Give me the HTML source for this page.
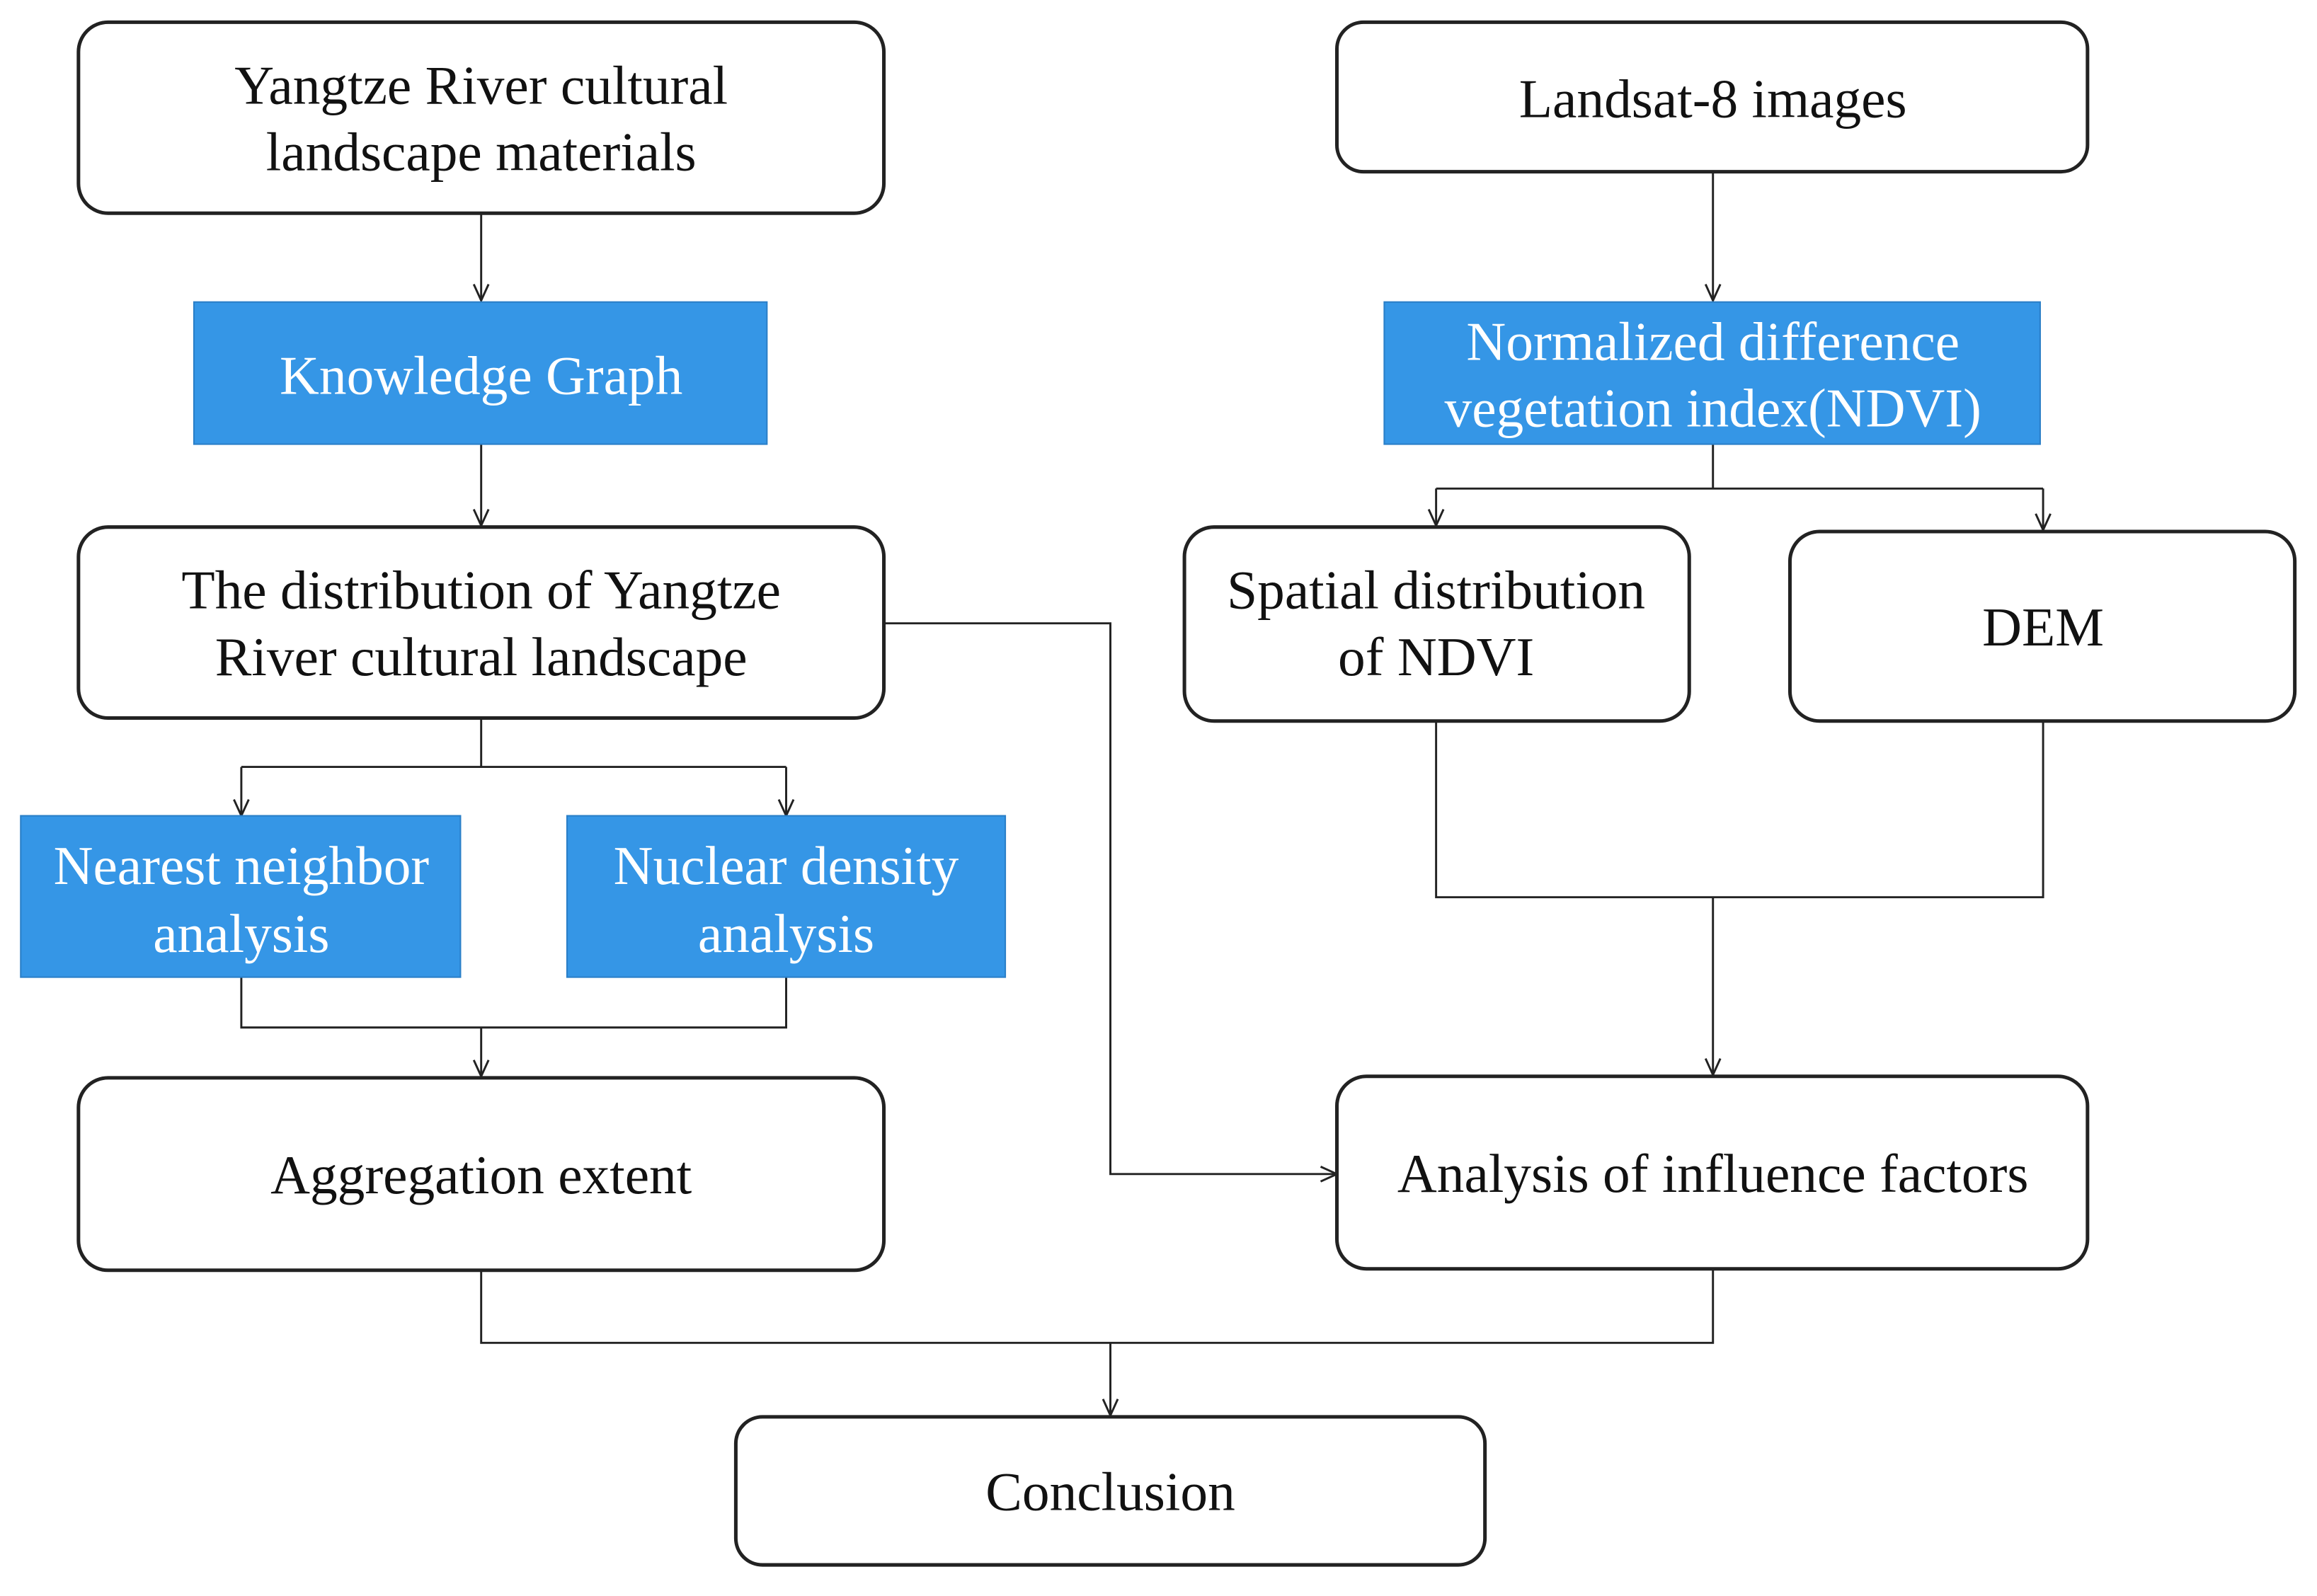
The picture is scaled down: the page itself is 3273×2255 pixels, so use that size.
<!DOCTYPE html>
<html><head><meta charset="utf-8"><style>html,body{margin:0;padding:0;background:#fff}svg{display:block}text{font-family:"Liberation Serif","Times New Roman",serif}</style></head>
<body>
<svg width="3273" height="2255" viewBox="0 0 1565 1078" preserveAspectRatio="none" xmlns="http://www.w3.org/2000/svg">
<rect width="1565" height="1078" fill="#fff"/>
<g fill="none" stroke="#222" stroke-width="1.4">
<path d="M325 144V203M325 300V355"/>
<path d="M597 421H750V793H903"/>
<path d="M325 485V518M163 518H531M163 518V551M531 518V551"/>
<path d="M163 660V694H531V660M325 694V727"/>
<path d="M1157 116V203"/>
<path d="M1157 300V330M970 330H1380M970 330V355M1380 330V358"/>
<path d="M970 487V606H1380V487M1157 606V726"/>
<path d="M325 858V907H1157V857M750 907V956"/>
<path d="M320 192L325 203L330 192M320 344L325 355L330 344"/>
<path d="M158 540L163 551L168 540M526 540L531 551L536 540"/>
<path d="M320 716L325 727L330 716"/>
<path d="M1152 192L1157 203L1162 192"/>
<path d="M965 344L970 355L975 344M1375 347L1380 358L1385 347"/>
<path d="M1152 715L1157 726L1162 715"/>
<path d="M892 788L903 793L892 798"/>
<path d="M745 945L750 956L755 945"/>
</g>
<g fill="#fff" stroke="#222" stroke-width="2.4">
<rect x="53" y="15" width="544" height="129" rx="20"/>
<rect x="53" y="356" width="544" height="129" rx="20"/>
<rect x="53" y="728" width="544" height="130" rx="20"/>
<rect x="903" y="15" width="507" height="101" rx="18"/>
<rect x="800" y="356" width="341" height="131" rx="20"/>
<rect x="1209" y="359" width="341" height="128" rx="20"/>
<rect x="903" y="727" width="507" height="130" rx="20"/>
<rect x="497" y="957" width="506" height="100" rx="18"/>
</g>
<g fill="#3596E6" stroke="#2a7fc8" stroke-width="1">
<rect x="131" y="204" width="387" height="96"/>
<rect x="935" y="204" width="443" height="96"/>
<rect x="14" y="551" width="297" height="109"/>
<rect x="383" y="551" width="296" height="109"/>
</g>
<g font-size="37" text-anchor="middle" fill="#111">
<text x="325" y="70">Yangtze River cultural</text>
<text x="325" y="115">landscape materials</text>
<text x="325" y="411">The distribution of Yangtze</text>
<text x="325" y="456">River cultural landscape</text>
<text x="325" y="806">Aggregation extent</text>
<text x="1157" y="79">Landsat-8 images</text>
<text x="970" y="411">Spatial distribution</text>
<text x="970" y="456">of NDVI</text>
<text x="1380" y="436">DEM</text>
<text x="1157" y="805">Analysis of influence factors</text>
<text x="750" y="1020">Conclusion</text>
</g>
<g font-size="37" text-anchor="middle" fill="#fff">
<text x="325" y="266">Knowledge Graph</text>
<text x="1157" y="243">Normalized difference</text>
<text x="1157" y="288">vegetation index(NDVI)</text>
<text x="163" y="597">Nearest neighbor</text>
<text x="163" y="643">analysis</text>
<text x="531" y="597">Nuclear density</text>
<text x="531" y="643">analysis</text>
</g>
</svg>
</body></html>
